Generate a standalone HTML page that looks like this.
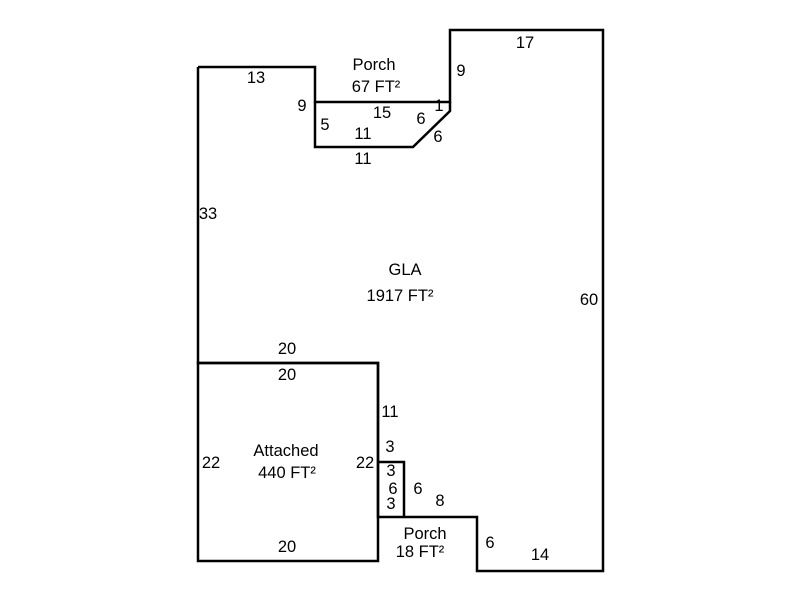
<!DOCTYPE html>
<html><head><style>body{margin:0;background:#fff}svg{display:block}text{font-family:"Liberation Sans",sans-serif;font-size:16.5px;fill:#000}</style></head><body>
<svg width="800" height="600" xmlns="http://www.w3.org/2000/svg">
<g fill="none" stroke="#000" stroke-width="2.5">
<polyline points="198,67 315,67 315,102 450,102 450,30 603,30 603,571 477,571 477,517 378,517 378,363 198,363 198,67"/>
<polyline points="315,102 315,147 413,147 450,111 450,102"/>
<rect x="198" y="363" width="180" height="198"/>
<polyline points="378,462 404,462 404,517"/>
</g>
<g text-anchor="middle">
<text x="374" y="70">Porch</text><text x="376" y="92">67 FT²</text>
<text x="256" y="83">13</text><text x="525" y="48">17</text><text x="461" y="76">9</text>
<text x="302" y="111">9</text><text x="382" y="118">15</text><text x="439" y="111">1</text>
<text x="325" y="130">5</text><text x="363" y="139">11</text><text x="421" y="124">6</text><text x="438" y="142">6</text>
<text x="363" y="164">11</text><text x="208" y="219">33</text>
<text x="405" y="275">GLA</text><text x="400" y="301">1917 FT²</text><text x="589" y="305">60</text>
<text x="287" y="354">20</text><text x="287" y="380">20</text><text x="390" y="417">11</text>
<text x="286" y="456">Attached</text><text x="287" y="478">440 FT²</text>
<text x="211" y="468">22</text><text x="365" y="468">22</text>
<text x="390" y="452">3</text><text x="391" y="476">3</text><text x="393" y="494">6</text><text x="391" y="509">3</text>
<text x="418" y="494">6</text><text x="440" y="506">8</text>
<text x="425" y="539">Porch</text><text x="420" y="557">18 FT²</text>
<text x="490" y="548">6</text><text x="540" y="560">14</text><text x="287" y="552">20</text>
</g>
</svg>
</body></html>
